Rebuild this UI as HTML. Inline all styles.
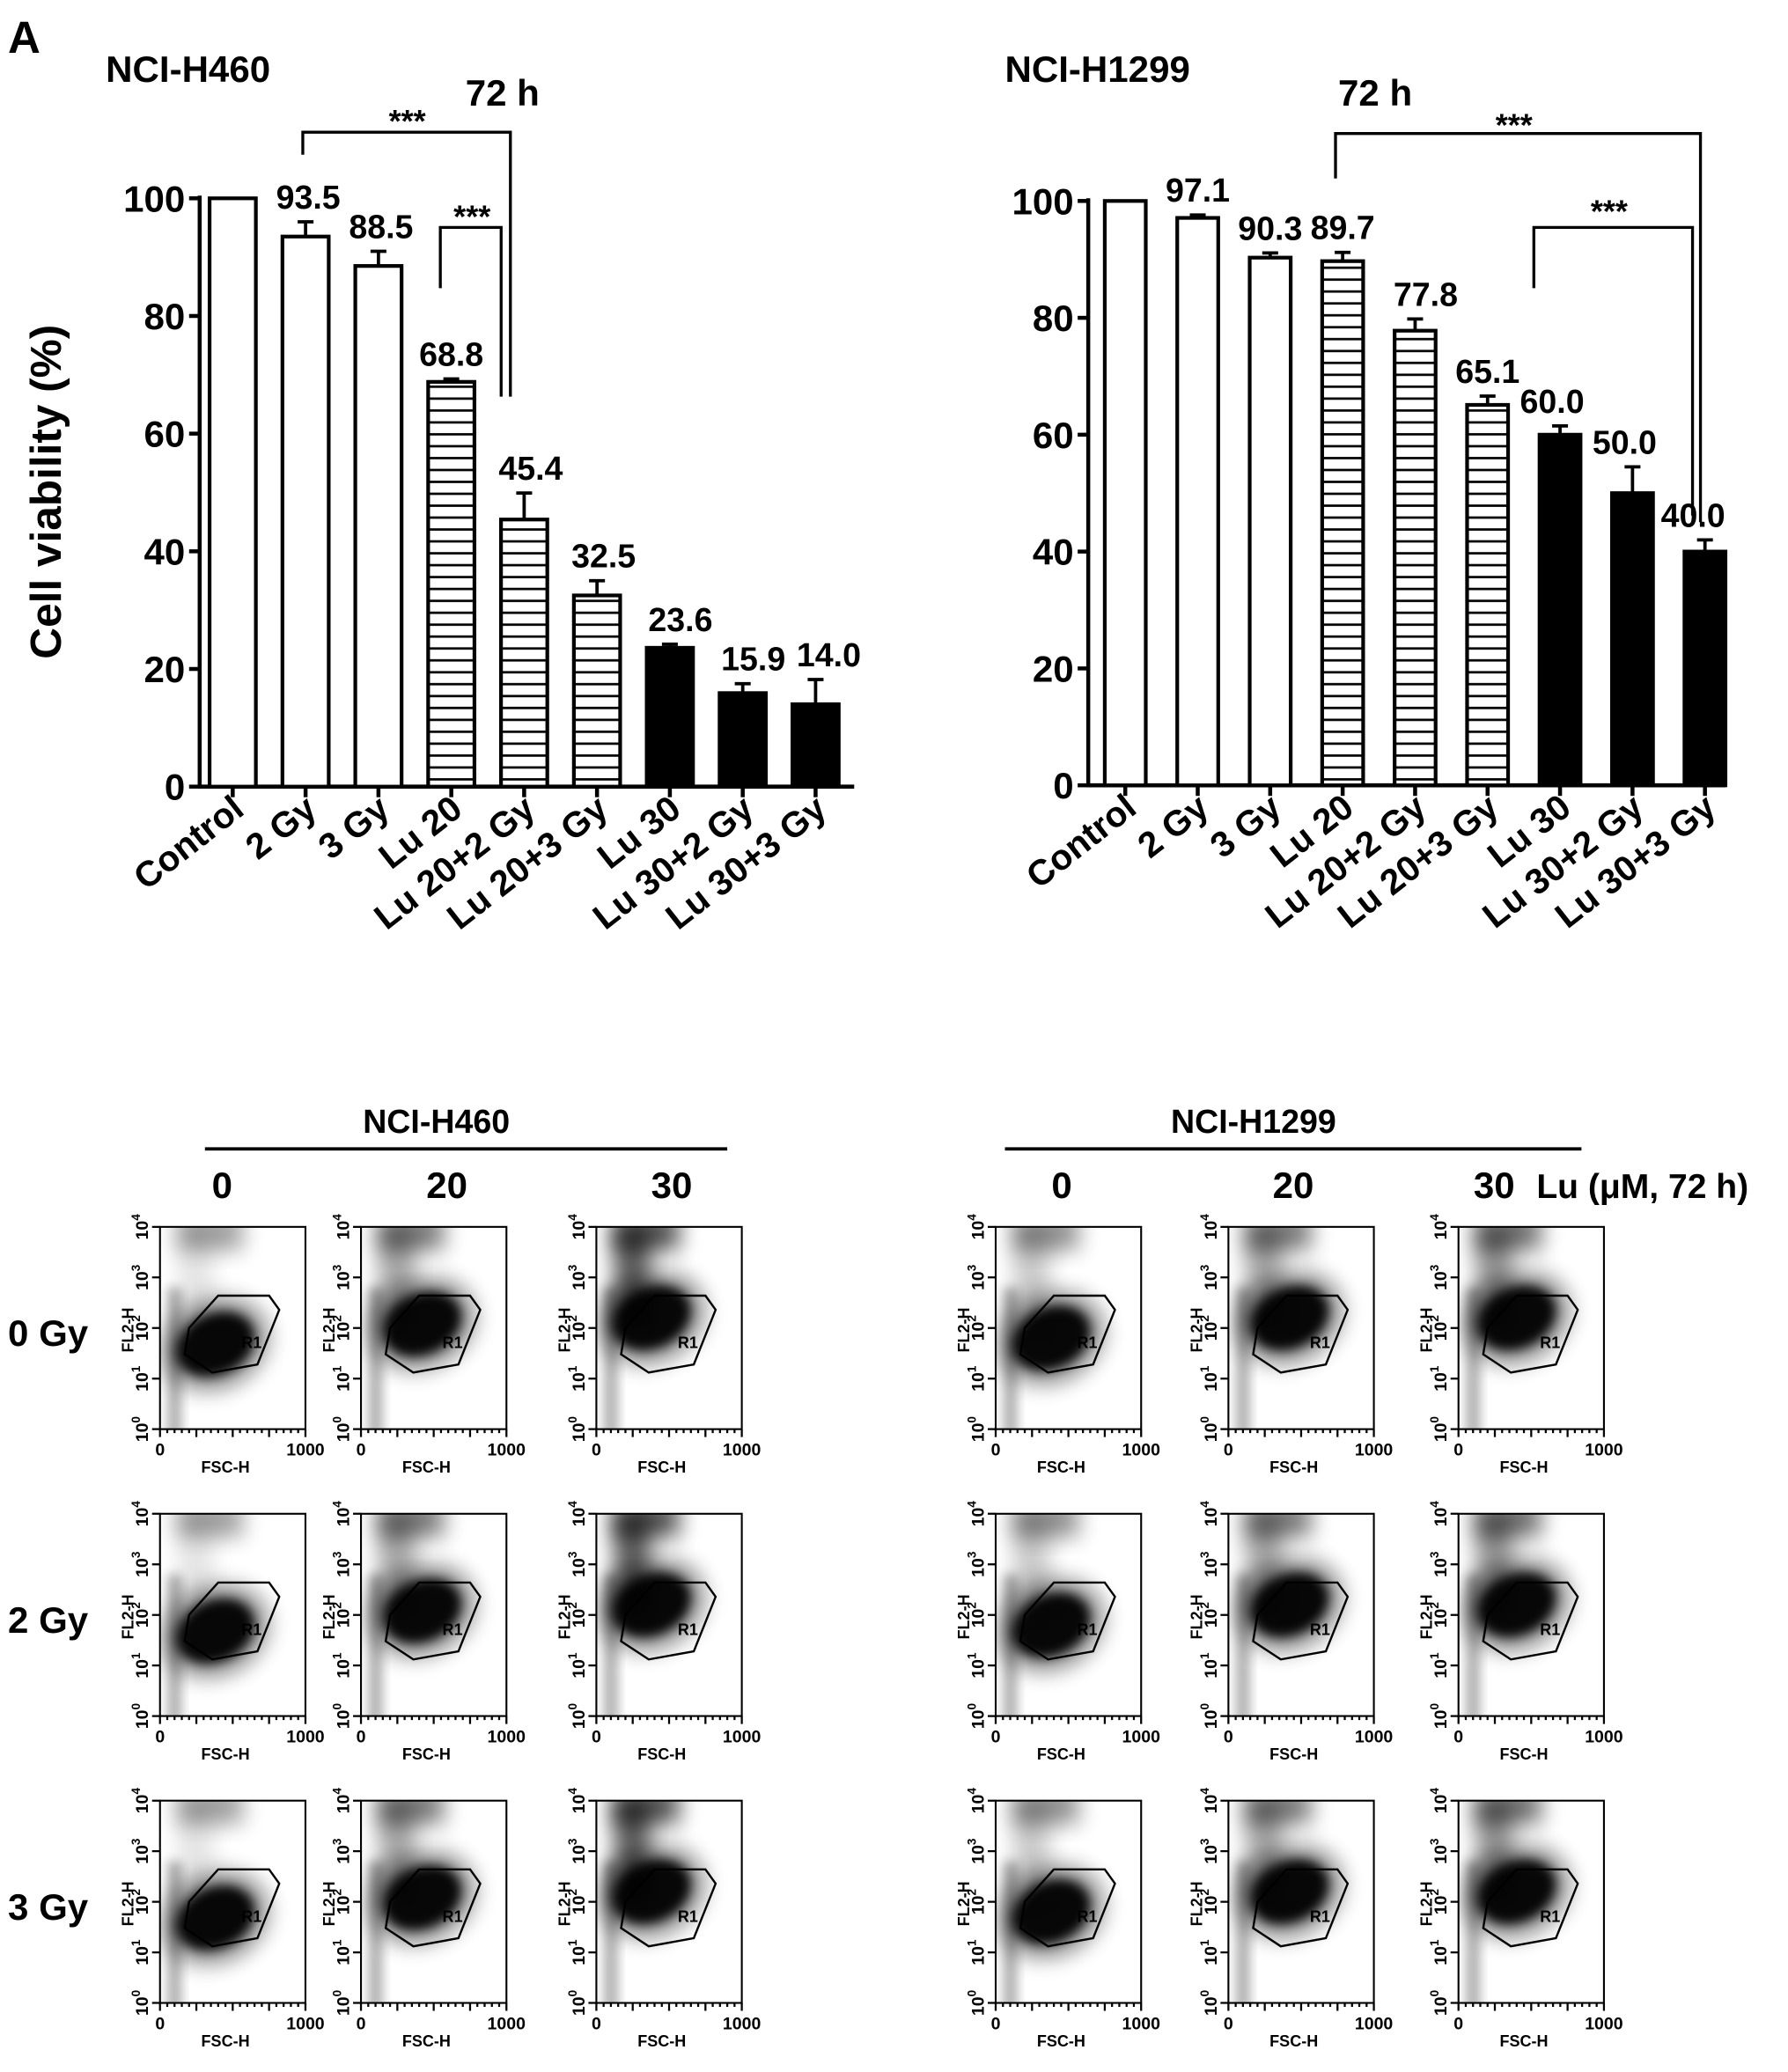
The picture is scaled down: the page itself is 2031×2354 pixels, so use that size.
<!DOCTYPE html>
<html><head><meta charset="utf-8"><style>
html,body{margin:0;padding:0;background:#fff}
svg{display:block}
text{font-family:"Liberation Sans",Arial,sans-serif;font-weight:bold;fill:#000}
</style></head><body>
<svg id="fig" width="2031" height="2354" viewBox="0 0 2031 2354" xmlns="http://www.w3.org/2000/svg">
<defs>
<pattern id="hatch" patternUnits="userSpaceOnUse" width="10" height="9"><rect width="10" height="9" fill="#fff"/><line x1="0" y1="4.5" x2="10" y2="4.5" stroke="#000" stroke-width="1.8"/></pattern>
<filter id="blur" x="-50%" y="-50%" width="200%" height="200%"><feGaussianBlur stdDeviation="4"/></filter>
<filter id="blur2" x="-50%" y="-50%" width="200%" height="200%"><feGaussianBlur stdDeviation="8"/></filter>
</defs>
<g id="root" transform="scale(1.502)">
<text x="6" y="40" font-size="34">A</text>
<text x="80" y="62" font-size="28">NCI-H460</text>
<text x="352" y="80" font-size="28">72 h</text>
<text x="760" y="62" font-size="28">NCI-H1299</text>
<text x="1012" y="80" font-size="28">72 h</text>
<text transform="translate(46,372) rotate(-90)" text-anchor="middle" font-size="33">Cell viability (%)</text>

<g fill="none" stroke="#000" stroke-width="2.2">
<polyline points="229,117 229,100 386,100 386,300"/>
<polyline points="333,218 333,172 379,172 379,300"/>
</g>
<text x="308" y="100" font-size="24" text-anchor="middle">***</text>
<text x="357" y="172" font-size="24" text-anchor="middle">***</text>
<g fill="none" stroke="#000" stroke-width="2.2">
<polyline points="1010,135 1010,101 1286,101 1286,395"/>
<polyline points="1160,218 1160,172 1280,172 1280,390"/>
</g>
<text x="1145" y="103" font-size="24" text-anchor="middle">***</text>
<text x="1217" y="168" font-size="24" text-anchor="middle">***</text>

<g id="charts"></g>
<g id="flow"></g>
</g>
</svg>
<script>
const categories = ["Control","2 Gy","3 Gy","Lu 20","Lu 20+2 Gy","Lu 20+3 Gy","Lu 30","Lu 30+2 Gy","Lu 30+3 Gy"];
const fills = ["open","open","open","hatch","hatch","hatch","solid","solid","solid"];
const h460Values = [100,93.5,88.5,68.8,45.4,32.5,23.6,15.9,14.0];
const h460Errors = [0,2.5,2.5,0.5,4.5,2.5,0.6,1.6,4.2];
const h460Labels = ["","93.5","88.5","68.8","45.4","32.5","23.6","15.9","14.0"];
const h1299Values = [100,97.1,90.3,89.7,77.8,65.1,60.0,50.0,40.0];
const h1299Errors = [0,0.5,0.8,1.5,2.0,1.5,1.5,4.5,2.0];
const h1299Labels = ["","97.1","90.3","89.7","77.8","65.1","60.0","50.0","40.0"];
const yTicks = [0,20,40,60,80,100];

const NS="http://www.w3.org/2000/svg";
function mk(tag,attrs,parent){const e=document.createElementNS(NS,tag);for(const k in attrs)e.setAttribute(k,attrs[k]);parent.appendChild(e);return e;}
const chartsG=document.getElementById('charts');

function drawChart(cfg,values,errors,labels){
  const g=mk('g',{},chartsG);
  
  
  const y=v=>cfg.y0-(v/100)*(cfg.y0-cfg.y100);
  const x=i=>cfg.c0+i*cfg.step;
  const ax=mk('path',{d:`M${cfg.ax},${cfg.y100-2} L${cfg.ax},${cfg.y0} L${cfg.axEnd},${cfg.y0}`,fill:'none',stroke:'#000','stroke-width':3},g);
  
  
  yTicks.forEach(t=>{
    const tk=mk('line',{x1:cfg.ax-8,x2:cfg.ax,y1:y(t),y2:y(t),stroke:'#000','stroke-width':3},g);
    
    
    const tl=mk('text',{x:cfg.ax-11,y:y(t)+10,'text-anchor':'end','font-size':28},g);
    tl.textContent=t;
    
    
  });
  values.forEach((v,i)=>{
    const cx=x(i),w=cfg.bw;
    const f=fills[i];
    const b=mk('rect',{x:cx-w/2,y:y(v),width:w,height:cfg.y0-y(v),fill:f==='solid'?'#000':(f==='hatch'?'url(#hatch)':'#fff'),stroke:'#000','stroke-width':2.8},g);
    
    
    if(errors[i]>0){
      const top=y(v+errors[i]);
      const e=mk('path',{d:`M${cx},${y(v)} L${cx},${top} M${cx-6},${top} L${cx+6},${top}`,stroke:'#000','stroke-width':2.5,fill:'none'},g);
      
      
    }
    mk('line',{x1:cx,x2:cx,y1:cfg.y0,y2:cfg.y0+8,stroke:'#000','stroke-width':3},g);
    if(labels[i]){
      const lt=mk('text',{x:cx+(cfg.ldx[i]||0),y:y(v+errors[i])-10,'text-anchor':'middle','font-size':25},g);
      lt.textContent=labels[i];
      
      
    }
    const xl=mk('text',{transform:`translate(${cx+10},${cfg.y0+20}) rotate(-38)`,'text-anchor':'end','font-size':27},g);
    xl.textContent=categories[i];
    
    
  });
}
drawChart({name:'h460-viability-chart',ax:151,axEnd:646,y0:595,y100:150,c0:176,step:55.1,bw:35,ldx:[0,2,2,0,5,5,8,8,10]},h460Values,h460Errors,h460Labels);
drawChart({name:'h1299-viability-chart',ax:823,axEnd:1305,y0:594,y100:152,c0:851,step:54.8,bw:31,ldx:[0,0,0,0,8,0,-6,-6,-9]},h1299Values,h1299Errors,h1299Labels);

const flowG=document.getElementById('flow');
const panelLefts=[121,273,451,753,929,1103];
const panelTops=[928,1145,1362];
const clusterCx=[0.38,0.42,0.38,0.38,0.42,0.40];
const clusterCy=[0.58,0.48,0.45,0.55,0.45,0.45];
const columnDensity=[0.15,0.5,0.9,0.3,0.5,0.6];

function txt(parent,attrs,s,name){const t=mk('text',attrs,parent);t.textContent=s;return t;}

txt(flowG,{x:330,y:857,'text-anchor':'middle','font-size':25},'NCI-H460','flow-h460-title');
mk('line',{x1:155,x2:550,y1:869,y2:869,stroke:'#000','stroke-width':2.5},flowG);
txt(flowG,{x:948,y:857,'text-anchor':'middle','font-size':25},'NCI-H1299','flow-h1299-title');
mk('line',{x1:760,x2:1196,y1:869,y2:869,stroke:'#000','stroke-width':2.5},flowG);
const colLabelX=[168,338,508,803,978,1130];
const colLabels=["0","20","30","0","20","30"];
colLabels.forEach((s,i)=>txt(flowG,{x:colLabelX[i],y:906,'text-anchor':'middle','font-size':28},s,'dose-column-label'));
txt(flowG,{x:1162,y:906,'font-size':26},'Lu (μM, 72 h)','dose-unit-label');
const rowLabels=["0 Gy","2 Gy","3 Gy"];
rowLabels.forEach((s,r)=>txt(flowG,{x:6,y:panelTops[r]+90,'font-size':28},s,'radiation-row-label'));

const W=110,H=153;
panelTops.forEach((py,r)=>{
  panelLefts.forEach((px,c)=>{
    const g=mk('g',{transform:`translate(${px},${py})`},flowG);
    
    
    const clip='clip'+r+'_'+c;
    const cp=mk('clipPath',{id:clip},g);mk('rect',{x:0,y:0,width:W,height:H},cp);
    const d=mk('g',{'clip-path':`url(#${clip})`},g);
    mk('rect',{x:W*0.12,y:-10,width:W*0.45,height:28,fill:'#000',opacity:0.3+columnDensity[c]*0.4,filter:'url(#blur2)'},d);
    mk('rect',{x:W*0.05,y:H*0.3,width:W*0.1,height:H*0.75,fill:'#000',opacity:0.3,filter:'url(#blur)'},d);
    mk('rect',{x:W*0.12,y:0,width:W*0.25,height:H*0.5,fill:'#000',opacity:columnDensity[c]*0.7,filter:'url(#blur2)'},d);
    mk('ellipse',{cx:W*clusterCx[c],cy:H*clusterCy[c],rx:W*0.38,ry:H*0.22,fill:'#000',opacity:0.45,transform:`rotate(-25 ${W*clusterCx[c]} ${H*clusterCy[c]})`,filter:'url(#blur2)'},d);
    mk('ellipse',{cx:W*clusterCx[c],cy:H*clusterCy[c],rx:W*0.28,ry:H*0.15,fill:'#000',opacity:0.95,transform:`rotate(-25 ${W*clusterCx[c]} ${H*clusterCy[c]})`,filter:'url(#blur)'},d);
    const gate=[[0.17,0.63],[0.36,0.72],[0.67,0.68],[0.82,0.41],[0.75,0.34],[0.4,0.34],[0.2,0.5]].map(p=>(p[0]*W)+','+(p[1]*H)).join(' ');
    mk('polygon',{points:gate,fill:'none',stroke:'#000','stroke-width':1.6},g);
    txt(g,{x:W*0.56,y:H*0.6,'font-size':12,'font-weight':'normal',fill:'#333'},'R1','gate-label');
    mk('rect',{x:0,y:0,width:W,height:H,fill:'none',stroke:'#000','stroke-width':1.4},g);
    let tk='';for(let k=0;k<=20;k++){tk+=`M${k*W/20},${H} L${k*W/20},${H+(k%5?3:6)} `;}
    for(let k=0;k<=4;k++){tk+=`M0,${H-k*H/4} L-6,${H-k*H/4} `;}
    mk('path',{d:tk,stroke:'#000','stroke-width':1.5,fill:'none'},g);
    ['0','1','2','3','4'].forEach((e,k)=>{
      const t=txt(g,{transform:`translate(-9,${H-k*H/4}) rotate(-90)`,'text-anchor':'middle','font-size':13},'10','y-tick-label');
      const s=mk('tspan',{dy:-6,'font-size':9},t);s.textContent=e;
    });
    txt(g,{transform:'translate(-20,78) rotate(-90)','text-anchor':'middle','font-size':12},'FL2-H','y-axis-label');
    txt(g,{x:0,y:H+20,'text-anchor':'middle','font-size':13,'font-weight':'normal'},'0','x-tick-label');
    txt(g,{x:W,y:H+20,'text-anchor':'middle','font-size':13,'font-weight':'normal'},'1000','x-tick-label');
    txt(g,{x:W*0.45,y:H+33,'text-anchor':'middle','font-size':12},'FSC-H','x-axis-label');
  });
});
</script>
</body></html>
